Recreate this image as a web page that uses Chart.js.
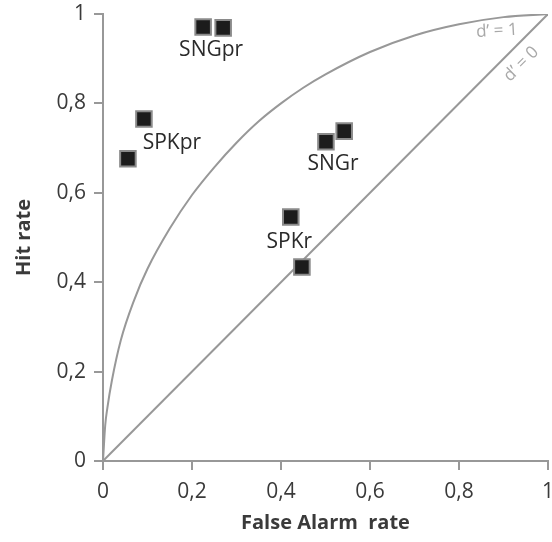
<!DOCTYPE html>
<html>
<head>
<meta charset="utf-8">
<script src="https://cdn.jsdelivr.net/npm/chart.js@4"></script>
<style>
    html, body { margin: 0; padding: 0; background: #fff; overflow: hidden; }
    canvas { display: block; }
</style>
</head>
<body>
<canvas id="chartRoc" width="552" height="542"></canvas>
<script>
// Dados
const faRate = [0.225, 0.27, 0.092, 0.056, 0.501, 0.542, 0.422, 0.447];
const hitRate = [0.971, 0.969, 0.765, 0.676, 0.714, 0.738, 0.546, 0.434];
const groups = ['SNGpr', 'SNGpr', 'SPKpr', 'SPKpr', 'SNGr', 'SNGr', 'SPKr', 'SPKr'];

// Curva d' = 1 e diagonal d' = 0
const curveFA = [0, 0.005, 0.01, 0.02, 0.04, 0.07, 0.1, 0.15, 0.2, 0.25, 0.3, 0.35, 0.4, 0.45, 0.5, 0.6, 0.7, 0.8, 0.9, 1];
const curveHit = [0, 0.08, 0.12, 0.18, 0.27, 0.36, 0.43, 0.52, 0.595, 0.657, 0.712, 0.76, 0.8, 0.835, 0.865, 0.915, 0.952, 0.977, 0.993, 1];
const diagFA = [0, 1];
const diagHit = [0, 1];

const ticksAxis = [0, 0.2, 0.4, 0.6, 0.8, 1];
const xTitle = 'False Alarm  rate';
const yTitle = 'Hit rate';

const GRAY = '#989898';
const TEXT = '#3a3a3a';
const FONT = '"Open Sans", sans-serif';

// Rótulos dos grupos (deslocamento em pixels a partir do centro do grupo)
const labelOffsets = {
    SNGpr: [-2, 23],
    SPKpr: [36, 4],
    SNGr: [-2, 28],
    SPKr: [-7, 0]
};

const rocLabels = {
    id: 'rocLabels',
    afterDatasetsDraw(chart) {
        const { ctx, scales: { x, y } } = chart;
        ctx.save();
        ctx.font = '21px ' + FONT;
        ctx.fillStyle = '#2a2a2a';
        ctx.textAlign = 'center';
        ctx.textBaseline = 'middle';
        [...new Set(groups)].forEach(g => {
            const idx = groups.map((v, i) => v === g ? i : -1).filter(i => i >= 0);
            const mx = idx.reduce((s, i) => s + x.getPixelForValue(faRate[i]), 0) / idx.length;
            const my = idx.reduce((s, i) => s + y.getPixelForValue(hitRate[i]), 0) / idx.length;
            const off = labelOffsets[g];
            ctx.fillText(g, mx + off[0], my + off[1]);
        });

        // Rótulos d'
        ctx.font = '17px ' + FONT;
        ctx.fillStyle = '#a8a8a8';
        ctx.save();
        ctx.translate(x.getPixelForValue(0.885), y.getPixelForValue(0.962));
        ctx.rotate(-0.06);
        ctx.fillText('d\u2019 = 1', 0, 0);
        ctx.restore();
        ctx.translate(x.getPixelForValue(0.94), y.getPixelForValue(0.888));
        ctx.rotate(-Math.PI / 4);
        ctx.fillText('d\u2019 = 0', 0, 0);
        ctx.restore();
    }
};

const fmt = v => (Math.round(v * 10) / 10).toString().replace('.', ',');

const axisCommon = {
    type: 'linear',
    min: 0,
    max: 1,
    grid: { drawOnChartArea: false, drawTicks: true, tickLength: 9, color: GRAY, lineWidth: 2 },
    border: { color: GRAY, width: 2 },
    ticks: { stepSize: 0.2, color: TEXT, font: { family: FONT, size: 21 }, callback: fmt }
};

new Chart(document.getElementById('chartRoc').getContext('2d'), {
    type: 'scatter',
    data: {
        datasets: [
            {
                data: faRate.map((v, i) => ({ x: v, y: hitRate[i] })),
                pointStyle: 'rect',
                pointRadius: 11,
                pointHoverRadius: 11,
                backgroundColor: '#1c1c1c',
                borderColor: '#8a8a8a',
                borderWidth: 2
            },
            {
                data: curveFA.map((v, i) => ({ x: v, y: curveHit[i] })),
                showLine: true,
                cubicInterpolationMode: 'monotone',
                borderColor: GRAY,
                borderWidth: 2,
                pointRadius: 0
            },
            {
                data: diagFA.map((v, i) => ({ x: v, y: diagHit[i] })),
                showLine: true,
                borderColor: GRAY,
                borderWidth: 2,
                pointRadius: 0
            }
        ]
    },
    options: {
        responsive: false,
        animation: false,
        layout: { autoPadding: false, padding: { top: 14, right: 4, left: 0, bottom: 0 } },
        plugins: { legend: { display: false }, tooltip: { enabled: false } },
        scales: {
            x: {
                ...axisCommon,
                position: 'bottom',
                afterBuildTicks: s => { s.ticks = ticksAxis.map(v => ({ value: v })); },
                afterFit: s => { s.height = 81; s.paddingLeft = 0; s.paddingRight = 0; },
                ticks: { ...axisCommon.ticks, padding: 9, maxRotation: 0 },
                title: { display: true, text: xTitle, color: TEXT, font: { family: FONT, size: 20, weight: 'bold' }, padding: { top: 0, bottom: 7 } }
            },
            y: {
                ...axisCommon,
                afterBuildTicks: s => { s.ticks = ticksAxis.map(v => ({ value: v })); },
                afterFit: s => { s.width = 103; s.paddingTop = 0; s.paddingBottom = 0; },
                ticks: { ...axisCommon.ticks, padding: 8 },
                title: { display: true, text: yTitle, color: TEXT, font: { family: FONT, size: 20, weight: 'bold' }, padding: { top: 12, bottom: 0 } }
            }
        }
    },
    plugins: [rocLabels]
});
</script>
</body>
</html>
